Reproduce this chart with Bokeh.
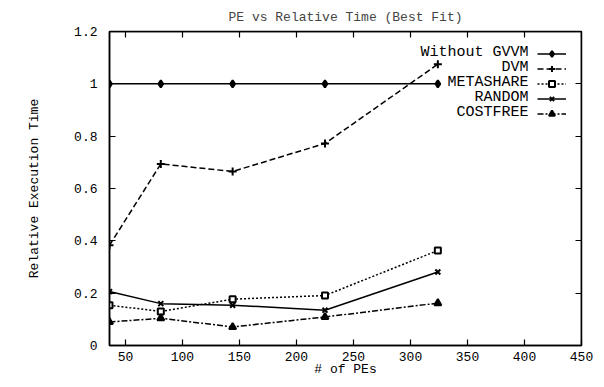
from bokeh.plotting import figure
from bokeh.models import Range1d, LinearAxis, Legend, LegendItem, Label, FixedTicker
from bokeh.embed import file_html
from bokeh.resources import INLINE

# ---- data ----
pes = [36, 81, 144, 225, 324]
without_gvvm = [1.0, 1.0, 1.0, 1.0, 1.0]
dvm = [0.383, 0.694, 0.665, 0.772, 1.075]
metashare = [0.154, 0.130, 0.177, 0.191, 0.363]
random_fit = [0.206, 0.160, 0.154, 0.135, 0.281]
costfree = [0.090, 0.104, 0.071, 0.109, 0.162]

series_names = ["Without GVVM", "DVM", "METASHARE", "RANDOM", "COSTFREE"]
x_ticks = [50, 100, 150, 200, 250, 300, 350, 400, 450]
y_ticks = [0, 0.2, 0.4, 0.6, 0.8, 1.0, 1.2]
y_tick_labels = ["0", "0.2", "0.4", "0.6", "0.8", "1", "1.2"]
x_min, x_max = 36, 450
y_min, y_max = 0, 1.2

FONT = "Liberation Mono"

p = figure(width=596, height=379, x_range=Range1d(x_min, x_max), y_range=Range1d(y_min, y_max),
           output_backend="svg", toolbar_location=None,
           title="PE vs Relative Time (Best Fit)",
           x_axis_label="# of PEs", y_axis_label="Relative Execution Time",
           min_border_left=109, min_border_right=15, min_border_top=30, min_border_bottom=5)

p.title.align = "center"
p.title.text_font = FONT
p.title.text_font_size = "13px"
p.title.text_font_style = "normal"
p.title.standoff = 14
p.title.offset = 0

p.xgrid.visible = False
p.ygrid.visible = False
p.outline_line_color = "black"
p.outline_line_width = 1.5
p.background_fill_color = "white"
p.border_fill_color = "white"

xt = FixedTicker(ticks=x_ticks)
yt = FixedTicker(ticks=y_ticks)
overrides = {v: s for v, s in zip(y_ticks, y_tick_labels)}

for ax in (p.xaxis[0], p.yaxis[0]):
    ax.major_tick_in = 6
    ax.major_tick_out = 0
    ax.minor_tick_line_color = None
    ax.axis_line_color = "black"
    ax.axis_line_width = 1.5
    ax.major_tick_line_width = 1.2
    ax.major_label_text_font = FONT
    ax.major_label_text_font_size = "13px"
    ax.major_label_text_color = "black"
    ax.axis_label_text_font = FONT
    ax.axis_label_text_font_size = "13px"
    ax.axis_label_text_font_style = "normal"
    ax.axis_label_text_color = "black"

p.xaxis[0].ticker = xt
p.yaxis[0].ticker = yt
p.yaxis[0].major_label_overrides = overrides
p.xaxis[0].major_label_standoff = 6
p.xaxis[0].axis_label_standoff = -2
p.yaxis[0].major_label_standoff = 12
p.yaxis[0].axis_label_standoff = 29

# mirrored ticks on the top and right sides (no labels), pinned to the frame edges
right_ax = LinearAxis(ticker=yt, major_label_overrides={v: "" for v in y_ticks},
                      major_label_text_font_size="0px", major_label_standoff=0,
                      major_tick_in=6, major_tick_out=0, minor_tick_line_color=None,
                      axis_line_color="black", axis_line_width=1.5, major_tick_line_width=1.2,
                      fixed_location=x_max)
top_ax = LinearAxis(ticker=xt, major_label_overrides={v: "" for v in x_ticks},
                    major_label_text_font_size="0px", major_label_standoff=0,
                    major_tick_in=6, major_tick_out=0, minor_tick_line_color=None,
                    axis_line_color="black", axis_line_width=1.5, major_tick_line_width=1.2,
                    fixed_location=y_max)
p.add_layout(right_ax, "right")
p.add_layout(top_ax, "above")

# ---- series ----
styles = [
    dict(y=without_gvvm, dash="solid", marker="diamond", size=7, fill="black"),
    dict(y=dvm, dash="6 3", marker="cross", size=8, fill="black"),
    dict(y=metashare, dash="2 2", marker="square", size=6, fill="white"),
    dict(y=random_fit, dash="solid", marker="x", size=7, fill="black"),
    dict(y=costfree, dash="6 2 2 2", marker="triangle", size=7, fill="black"),
]

items = []
for name, st in zip(series_names, styles):
    r = p.line(pes, st["y"], line_color="black", line_width=1.5, line_dash=st["dash"])
    s = p.scatter(pes, st["y"], marker=st["marker"], size=st["size"], line_color="black",
                  line_width=2, fill_color=st["fill"])
    items.append(LegendItem(label="", renderers=[r, s]))

legend = Legend(items=items, location="top_right", border_line_color=None,
                background_fill_alpha=0, glyph_width=29, glyph_height=15, label_height=15,
                label_width=0, label_standoff=0, spacing=0, padding=0, margin=15,
                label_text_font_size="13px")
p.add_layout(legend)

# legend texts, right-aligned to the left of the samples (gnuplot style)
for i, name in enumerate(series_names):
    p.add_layout(Label(x=419, y=293 - 15 * i, x_units="screen", y_units="screen", text=name,
                       text_align="right", text_baseline="middle", text_font=FONT,
                       text_font_size="15px", text_color="black"))

open("out.html", "w").write(file_html(p, INLINE))
